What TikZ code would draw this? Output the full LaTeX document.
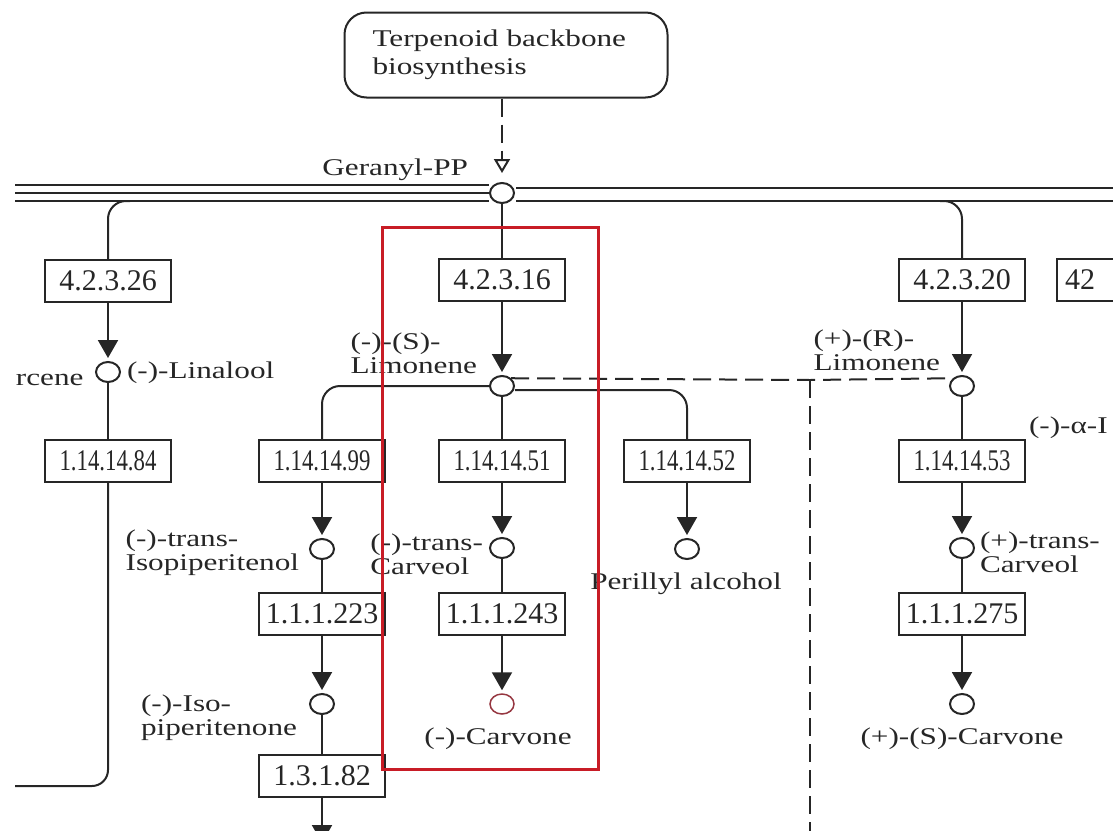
\documentclass[tikz,border=0pt]{standalone}
\usepackage{fontspec}
\newfontfamily\keggfam{Liberation Serif}[FakeStretch=1.3]
\newfontfamily\ecfam{Liberation Serif}
\newfontfamily\ecnarrowfam{Liberation Serif}[FakeStretch=0.76]
\newcommand{\labfont}{\keggfam\fontsize{24}{24}\selectfont}
\newcommand{\ecfont}{\ecfam\fontsize{30}{30}\selectfont}
\newcommand{\ecnarrow}{\ecnarrowfam\fontsize{30}{30}\selectfont}
\usetikzlibrary{arrows.meta,shapes.geometric}
\definecolor{marco}{RGB}{200,28,38}
\definecolor{objetivo}{RGB}{150,55,65}

\begin{document}
\begin{tikzpicture}[   % opciones por defecto
  x=1pt, y=-1pt,       % coordenadas en pixeles, y hacia abajo
  line width=2pt,      % grosor de linea
  color=black!85,      % linea casi negra
  font=\labfont
]
  \tikzstyle{enzima}=[draw, rectangle, minimum width=126pt, minimum height=42pt, inner sep=0pt, font=\ecfont];
  \tikzstyle{compuesto}=[draw, ellipse, minimum width=24pt, minimum height=20pt, inner sep=0pt];
  \tikzstyle{etiqueta}=[inner sep=0pt, align=left, font=\labfont];
  \tikzstyle{flecha}=[-{Triangle[width=20pt,length=18pt]}, shorten >=3pt];
  \tikzstyle{guion}=[dash pattern=on 18pt off 8pt];
  %
  \useasboundingbox (0,0) rectangle (1113,830);
  \clip (0,0) rectangle (1113,830);
  %
  % via de origen
  \node [draw, rounded corners=22pt, minimum width=323pt, minimum height=85pt,
         text width=267pt, align=left, inner sep=0pt,
         font=\keggfam\fontsize{24}{28}\selectfont] (terp) at (506,55)
        {Terpenoid backbone\\biosynthesis};
  %
  % compuestos
  \node [compuesto] (gpp)      at (502,193) {};
  \node [compuesto] (linal)    at (108,372) {};
  \node [compuesto] (limS)     at (502,386) {};
  \node [compuesto] (limR)     at (962,386) {};
  \node [compuesto] (isopol)   at (322,549) {};
  \node [compuesto] (isopona)  at (322,704) {};
  \node [compuesto] (carvolS)  at (502,548) {};
  \node [compuesto, draw=objetivo, line width=1.5pt] (carvS) at (502,704) {};
  \node [compuesto] (perillyl) at (687,549) {};
  \node [compuesto] (carvolR)  at (962,548) {};
  \node [compuesto] (carvR)    at (962,704) {};
  %
  % enzimas
  \node [enzima] (e42326) at (108,281) {4.2.3.26};
  \node [enzima] (e42316) at (502,280) {4.2.3.16};
  \node [enzima] (e42320) at (962,280) {4.2.3.20};
  \node [enzima, anchor=west, text width=110pt, align=left] (e423xx) at (1056,280) {42};
  \node [enzima, font=\ecnarrow] (e1141484) at (108,461) {1.14.14.84};
  \node [enzima, font=\ecnarrow] (e1141499) at (322,461) {1.14.14.99};
  \node [enzima, font=\ecnarrow] (e1141451) at (502,461) {1.14.14.51};
  \node [enzima, font=\ecnarrow] (e1141452) at (687,461) {1.14.14.52};
  \node [enzima, font=\ecnarrow] (e1141453) at (962,461) {1.14.14.53};
  \node [enzima] (e111223) at (322,614) {1.1.1.223};
  \node [enzima] (e111243) at (502,614) {1.1.1.243};
  \node [enzima] (e111275) at (962,614) {1.1.1.275};
  \node [enzima] (e13182)  at (322,776) {1.3.1.82};
  %
  % nombres de los compuestos
  \node [etiqueta, anchor=east]      (tgpp)      at (469,170) {Geranyl-PP};
  \node [etiqueta, anchor=base west] (trcene)    at (15,385)  {rcene};
  \node [etiqueta, anchor=west]      (tlinal)    at (126,373) {(-)-Linalool};
  \node [etiqueta, anchor=east]      (tlimS)     at (478,353) {(-)-(S)-\\Limonene};
  \node [etiqueta, anchor=east]      (tlimR)     at (941,350) {(+)-(R)-\\Limonene};
  \node [etiqueta, anchor=west]      (talfa)     at (1028,428) {(-)-α-I};
  \node [etiqueta, anchor=east]      (tisopol)   at (300,553) {(-)-trans-\\Isopiperitenol};
  \node [etiqueta, anchor=east]      (tisopona)  at (298,718) {(-)-Iso-\\piperitenone};
  \node [etiqueta, anchor=east]      (tcarvolS)  at (484,554) {(-)-trans-\\Carveol};
  \node [etiqueta, anchor=west]      (tcarvolR)  at (979,552) {(+)-trans-\\Carveol};
  \node [etiqueta]                   (tperillyl) at (686,584) {Perillyl alcohol};
  \node [etiqueta]                   (tcarvS)    at (498,739) {(-)-Carvone};
  \node [etiqueta]                   (tcarvR)    at (962,739) {(+)-(S)-Carvone};
  %
  % entrada desde la via de origen
  \draw[guion, -{Triangle[open,width=16pt,length=14pt]}, shorten >=9pt] (terp.south -| gpp) -- (gpp);
  %
  % lineas de la via principal
  \foreach \y in {185,193,201}
    \draw (15,\y) -- (489,\y);
  \foreach \y in {188,201}
    \draw (516,\y) -- (1113,\y);
  %
  % ramas que bajan de la via principal
  \coordinate (rA) at (130,201);
  \coordinate (rE) at (940,201);
  \draw[rounded corners=18pt] (rA) -| (e42326);
  \draw[rounded corners=18pt] (rE) -| (e42320);
  \draw (gpp) -- (e42316);
  %
  % reacciones (enzima -> producto)
  \foreach \a/\b in {e42326/linal, e42316/limS, e42320/limR, e1141499/isopol,
                     e111223/isopona, e1141451/carvolS, e111243/carvS,
                     e1141452/perillyl, e1141453/carvolR, e111275/carvR}
    \draw[flecha] (\a) -- (\b);
  %
  % sustrato - enzima
  \foreach \a/\b in {linal/e1141484, limS/e1141451, limR/e1141453, isopol/e111223,
                     isopona/e13182, carvolS/e111243, carvolR/e111275}
    \draw (\a) -- (\b);
  \draw[rounded corners=18pt] (limS) -| (e1141499);
  \draw[rounded corners=18pt] ([yshift=-4pt]limS.east) -| (e1141452);
  %
  % salidas por abajo
  \coordinate (finA) at (15,786);
  \draw[rounded corners=16pt] (e1141484) |- (finA);
  \coordinate (salida) at (322,846);
  \draw[flecha] (e13182) -- (salida);
  %
  % enlace discontinuo entre limonenos
  \coordinate (cruce)  at (810,380);
  \coordinate (bajada) at (810,840);
  \draw[guion] (limS.north east) -- (cruce) -- (limR.north west);
  \draw[guion] (cruce) -- (bajada);
  %
  % recuadro rojo
  \draw[marco, line width=3pt] (382,227) rectangle (598,769);
\end{tikzpicture}
\end{document}
